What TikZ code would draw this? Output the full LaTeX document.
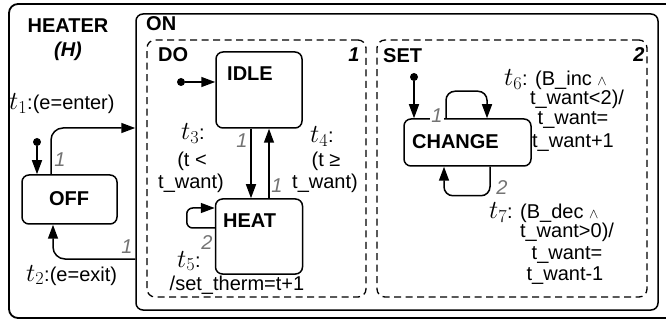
\RequirePackage{fix-cm}
\documentclass[tikz,border=0pt]{standalone}
\usepackage{fontspec}
\setmainfont{Liberation Sans}
\usetikzlibrary{arrows.meta}
\newcommand\fsz{\fontsize{20}{23}\selectfont}
\newcommand\tv[1]{{\fontsize{26}{28}\selectfont$t_{#1}$}}
\tikzset{
  box/.style={draw, line width=1.5pt, rounded corners=7pt, inner sep=0pt},
  outerbox/.style={draw, line width=1.8pt, rounded corners=9pt, inner sep=0pt},
  dbox/.style={draw, line width=1.3pt, dash pattern=on 7pt off 4.5pt, rounded corners=8pt, inner sep=0pt},
  arr/.style={line width=1.5pt, -{Triangle[length=14pt,width=10pt]}},
  pri/.style={text=black!55, font=\fsz\itshape, inner sep=0pt, anchor=base},
  bt/.style={font=\fsz\bfseries, inner sep=0pt, anchor=base},
  bit/.style={font=\fsz\bfseries\itshape, inner sep=0pt, anchor=base},
  lbl/.style={font=\fsz, inner sep=0pt, anchor=base},
  dot/.style={circle, fill, inner sep=0pt, minimum size=8pt},
}
\begin{document}
\begin{tikzpicture}[x=1pt,y=-1pt]
\useasboundingbox (0,0) rectangle (666,320);
\clip (0,0) rectangle (666,320);
% containers
\node[outerbox, minimum width=671pt, minimum height=314pt] (H) at (344.5,161) {};
\node[box, minimum width=522pt, minimum height=296pt] (ON) at (397,162) {};
\node[dbox, minimum width=219pt, minimum height=257pt] (DO) at (256.5,168.5) {};
\node[dbox, minimum width=270pt, minimum height=257pt] (SET) at (512,168.5) {};
% states
\node[box, minimum width=86pt, minimum height=76pt] (IDLE) at (259,90) {};
\node[box, minimum width=87pt, minimum height=75pt] (HEAT) at (259,236.5) {};
\node[box, minimum width=95pt, minimum height=49pt] (OFF) at (69.5,199.5) {};
\node[box, minimum width=127pt, minimum height=47pt] (CHANGE) at (467.5,142.5) {};
% titles
\node[bt] (heaterlbl) at (68,33) {HEATER};
\node[bit] (hlbl) at (68,57) {(H)};
\node[bt, anchor=base west] (onlbl) at (146,31) {ON};
\node[bt, anchor=base west] (dolbl) at (158,62) {DO};
\node[bit] (doprio) at (354,62) {1};
\node[bt, anchor=base west] (setlbl) at (383,63) {SET};
\node[bit] (setprio) at (639,62) {2};
\node[bt, anchor=base west] (idlelbl) at (227,81) {IDLE};
\node[bt, anchor=base west] (heatlbl) at (223,228) {HEAT};
\node[bt] (offlbl) at (69,206) {OFF};
\node[bt] (changelbl) at (455.5,149) {CHANGE};
% initial states
\node[dot] (i1) at (37,142) {};
\node[dot] (i2) at (181,82) {};
\node[dot] (i3) at (414,77) {};
\draw[arr] (i1) -- (i1 |- OFF.north);
\draw[arr] (i2) -- (i2 -| IDLE.west);
\draw[arr] (i3) -- (i3 |- CHANGE.north);
% t1, t2
\draw[arr, rounded corners=12pt] ([xshift=-18.5pt]OFF.north) |- ([yshift=34pt]ON.west);
\node[pri] (p1) at (60,167) {1};
\node[lbl, anchor=base west] (t1) at (9,110) {\tv{1}:(e=enter)};
\draw[arr, rounded corners=12pt] ([yshift=-97pt]ON.west) -| ([xshift=-16.5pt]OFF.south);
\node[pri] (p2) at (127,254) {1};
\node[lbl, anchor=base west] (t2) at (26,281) {\tv{2}:(e=exit)};
% t3, t4
\draw[arr] ([xshift=-8pt]IDLE.south) -- ([xshift=-8pt]HEAT.north);
\node[pri] (p3) at (242,148) {1};
\node[lbl] (t3a) at (193,140) {\tv{3}:};
\node[lbl] (t3b) at (192,167) {(t <};
\node[lbl] (t3c) at (191,189) {t\_want)};
\draw[arr] ([xshift=10pt]HEAT.north) -- ([xshift=10pt]IDLE.south);
\node[pri] (p4) at (277,193) {1};
\node[lbl] (t4a) at (322,143) {\tv{4}:};
\node[lbl] (t4b) at (326,167) {(t ≥};
\node[lbl] (t4c) at (325,189) {t\_want)};
% t5
\draw[arr, rounded corners=6pt] ([yshift=8.5pt]HEAT.west) -- ++(-28,0) -- ++(0,-20) -- ([yshift=28.5pt]HEAT.west);
\node[pri] (p5) at (207,250) {2};
\node[lbl] (t5a) at (189,267) {\tv{5}:};
\node[lbl] (t5b) at (237,290) {/set\_therm=t+1};
% t6
\draw[arr, rounded corners=9pt] ([xshift=-21.5pt]CHANGE.north) -- ++(0,-27) -| ([xshift=19.5pt]CHANGE.north);
\node[pri, fill=white, inner sep=1pt] (p6) at (437,123) {1};
\node[lbl, anchor=base west] (t6a) at (504,86) {\tv{6}: (B\_inc $\scriptstyle\wedge$};
\node[lbl] (t6b) at (577,105) {t\_want<2)/};
\node[lbl] (t6c) at (573,125) {t\_want=};
\node[lbl] (t6d) at (573,148) {t\_want+1};
% t7
\draw[arr, rounded corners=9pt] ([xshift=22.5pt]CHANGE.south) -- ++(0,29) -| ([xshift=-23.5pt]CHANGE.south);
\node[pri] (p7) at (502,195) {2};
\node[lbl, anchor=base west] (t7a) at (489,219) {\tv{7}: (B\_dec $\scriptstyle\wedge$};
\node[lbl] (t7b) at (567,238) {t\_want>0)/};
\node[lbl] (t7c) at (567,259) {t\_want=};
\node[lbl] (t7d) at (565,280) {t\_want-1};
\end{tikzpicture}
\end{document}
